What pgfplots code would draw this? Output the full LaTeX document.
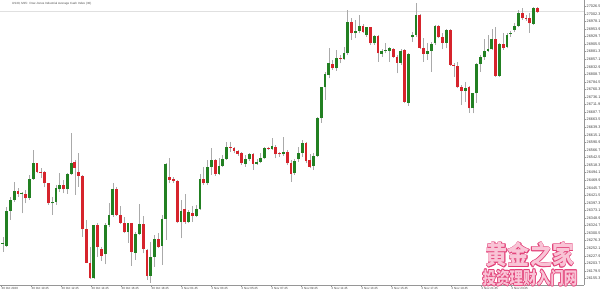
\documentclass[border=0pt]{standalone}
\usepackage{pgfplots}
\usepackage{pgfplotstable}
\pgfplotsset{compat=1.18}
\usepackage{fontspec}
\setmainfont{Liberation Sans}
\newfontfamily\cjk{Noto Sans CJK SC}
\definecolor{cgreen}{RGB}{34,128,34}
\definecolor{cred}{RGB}{214,36,44}
\definecolor{wick}{RGB}{170,170,170}
\definecolor{axgray}{RGB}{150,150,150}
\definecolor{wmout}{RGB}{226,64,120}
\definecolor{wmfill}{RGB}{249,196,214}

\pgfplotstableread{
k o h l c
1 26265.7 26289.2 26241.2 26270.0
2 26259.3 26385.2 26257.2 26371.3
3 26371.3 26417.2 26342.5 26406.5
4 26406.5 26465.2 26401.2 26435.3
6 26425.7 26433.2 26363.8 26427.8
8 26414.0 26486.5 26406.5 26473.7
9 26473.7 26566.5 26470.5 26526.0
14 26395.8 26417.2 26358.5 26401.2
15 26401.2 26454.5 26390.5 26443.8
16 26440.6 26491.8 26433.2 26454.5
18 26440.6 26491.8 26425.7 26489.7
19 26489.7 26619.8 26486.5 26523.8
25 26155.8 26328.0 26153.7 26326.5
28 26232.6 26331.8 26200.6 26326.5
29 26326.5 26398.0 26321.2 26358.5
30 26358.5 26459.8 26353.2 26441.7
34 26303.0 26334.0 26270.0 26331.8
36 26238.0 26305.2 26214.5 26296.6
37 26296.6 26392.6 26294.5 26329.7
40 26163.3 26273.2 26142.0 26225.2
41 26225.2 26294.5 26193.2 26280.6
43 26259.3 26358.5 26198.5 26345.7
44 26345.7 26523.8 26278.5 26521.7
48 26335.0 26406.5 26283.8 26371.3
50 26335.0 26374.5 26331.8 26367.0
52 26355.3 26390.5 26351.0 26376.6
53 26376.6 26489.7 26374.5 26473.7
55 26459.8 26534.5 26454.5 26513.2
56 26513.2 26571.8 26486.5 26534.5
58 26489.7 26539.8 26486.5 26515.3
59 26515.3 26550.5 26513.2 26536.6
60 26536.6 26593.2 26534.5 26577.2
65 26521.7 26550.5 26513.2 26536.6
66 26536.6 26558.0 26532.4 26553.7
68 26521.7 26536.6 26518.5 26529.2
69 26529.2 26555.8 26523.8 26539.8
70 26539.8 26577.2 26536.6 26571.8
72 26569.7 26603.8 26566.5 26579.3
75 26552.6 26609.2 26547.3 26561.2
78 26491.8 26536.6 26486.5 26532.4
79 26536.6 26577.2 26529.2 26555.8
80 26558.0 26598.5 26545.2 26590.0
83 26515.3 26555.8 26502.5 26548.4
84 26548.4 26673.2 26545.2 26667.8
85 26667.8 26769.2 26654.0 26767.0
86 26767.0 26817.2 26726.5 26809.7
87 26806.5 26891.8 26795.8 26843.8
89 26827.8 26886.5 26820.4 26859.8
91 26856.6 26897.2 26854.5 26875.8
92 26875.8 27014.5 26870.5 26975.0
94 26939.8 26982.5 26923.8 26948.4
95 26948.4 26998.5 26939.8 26963.3
97 26934.5 26961.2 26929.2 26959.0
99 26907.8 26934.5 26902.5 26931.3
101 26873.7 26888.6 26865.2 26884.4
102 26884.4 26907.8 26875.8 26886.5
103 26884.4 26897.2 26849.2 26891.8
106 26846.0 26888.6 26838.5 26884.4
108 26718.0 26878.0 26707.3 26873.7
109 26927.0 26945.2 26913.2 26934.5
110 26934.5 27038.0 26929.2 26998.5
113 26873.7 26910.0 26854.5 26884.4
114 26884.4 26913.2 26817.2 26905.7
115 26910.0 26966.5 26902.5 26963.3
118 26910.0 26952.6 26891.8 26950.5
123 26756.4 26785.2 26721.2 26763.8
125 26699.8 26750.0 26683.8 26747.8
126 26747.8 26843.8 26718.0 26840.6
127 26840.6 26870.5 26817.2 26863.0
128 26863.0 26920.6 26854.5 26884.4
129 26884.4 26934.5 26881.2 26888.6
130 26888.6 26952.6 26886.5 26920.6
132 26804.4 26910.0 26801.2 26904.6
134 26897.2 26939.8 26891.8 26934.5
135 26939.8 26948.4 26929.2 26942.0
136 26950.5 26971.8 26945.2 26963.3
137 26963.3 27014.5 26959.0 27003.8
141 26969.7 27023.0 26966.5 27022.0
}\greentab

\pgfplotstableread{
k o h l c
0 26278.5 26289.2 26246.5 26260.4
5 26435.3 26443.8 26417.2 26425.7
7 26424.6 26438.5 26395.8 26411.8
10 26523.8 26526.0 26491.8 26497.2
11 26497.2 26507.8 26475.8 26495.0
12 26497.2 26499.3 26447.0 26459.8
13 26459.8 26462.0 26390.5 26395.8
17 26454.5 26470.5 26427.8 26440.6
20 26527.0 26534.5 26422.5 26510.0
21 26497.2 26558.0 26449.2 26484.4
22 26484.4 26486.5 26289.2 26312.6
23 26312.6 26342.5 26203.8 26206.0
24 26206.0 26257.2 26153.7 26155.8
26 26326.5 26331.8 26225.2 26257.2
27 26248.6 26257.2 26212.4 26227.3
31 26441.7 26447.0 26355.3 26358.5
32 26358.5 26387.3 26329.7 26334.0
33 26334.0 26353.2 26299.8 26303.0
35 26331.8 26334.0 26196.4 26240.1
38 26329.7 26355.3 26235.8 26249.7
39 26246.5 26248.6 26150.5 26163.3
42 26280.6 26299.8 26251.8 26257.2
45 26479.0 26539.8 26459.8 26470.5
46 26473.7 26479.0 26462.0 26468.4
47 26467.3 26470.5 26331.8 26335.0
49 26376.6 26425.7 26329.7 26335.0
51 26366.0 26387.3 26337.2 26355.3
54 26473.7 26513.2 26454.5 26459.8
57 26534.5 26536.6 26483.3 26489.7
61 26577.2 26593.2 26561.2 26575.0
62 26574.0 26577.2 26555.8 26564.4
63 26564.4 26566.5 26547.3 26553.7
64 26555.8 26561.2 26518.5 26523.8
67 26553.7 26558.0 26502.5 26521.7
71 26571.8 26577.2 26566.5 26569.7
73 26577.2 26582.5 26539.8 26552.6
74 26555.8 26561.2 26545.2 26552.6
76 26561.2 26566.5 26518.5 26523.8
77 26523.8 26534.5 26465.2 26489.7
81 26590.0 26593.2 26523.8 26532.4
82 26534.5 26553.7 26507.8 26513.2
88 26841.7 26854.5 26822.5 26827.8
90 26859.8 26870.5 26843.8 26857.7
93 26975.0 26987.8 26918.5 26939.8
96 26963.3 26969.7 26939.8 26943.0
98 26959.0 26961.2 26902.5 26907.8
100 26931.3 26934.5 26849.2 26875.8
104 26888.6 26891.8 26859.8 26865.2
105 26863.0 26870.5 26811.8 26846.0
107 26886.5 26888.6 26715.8 26721.2
111 26998.5 27001.7 26888.6 26894.0
112 26894.0 26923.8 26849.2 26873.7
116 26963.3 26966.5 26923.8 26927.0
117 26929.2 26939.8 26888.6 26910.0
119 26950.5 26952.6 26835.3 26838.5
120 26838.5 26843.8 26801.2 26836.4
121 26835.3 26849.2 26763.8 26767.0
122 26767.0 26774.5 26710.5 26756.4
124 26767.0 26771.3 26686.0 26699.8
131 26920.6 26961.2 26801.2 26804.4
133 26905.7 26939.8 26886.5 26894.0
138 27003.8 27019.8 26982.5 26987.8
139 26987.8 26998.5 26980.4 26984.6
140 26987.8 27003.8 26942.0 26971.8
142 27022.0 27025.2 27006.0 27009.2
}\redtab

\begin{document}
\begin{tikzpicture}
\begin{axis}[
  at={(0bp,5bp)}, anchor=south west,
  scale only axis, width=584bp, height=285bp,
  xmin=0.24, xmax=154.33, ymin=26134.5, ymax=27046.5,
  scaled y ticks=false, scaled x ticks=false,
  axis x line*=bottom, axis y line*=right,
  axis line style={draw=axgray, line width=0.5bp},
  tick align=outside, major tick length=2bp,
  tick style={draw=axgray, line width=0.4bp},
  xtick={0.50,8.42,16.33,24.25,32.16,40.08,48.00,55.91,63.83,71.74,79.66,87.58,95.49,103.41,111.32,119.24,127.16,135.07},
  xticklabels={30 Oct 2020,30 Oct 10:45,30 Oct 12:45,30 Oct 14:45,30 Oct 16:45,30 Oct 18:45,2 Nov 01:45,2 Nov 03:45,2 Nov 05:45,2 Nov 07:45,2 Nov 09:45,2 Nov 11:45,2 Nov 13:45,2 Nov 15:45,2 Nov 17:45,2 Nov 19:45,2 Nov 21:45,2 Nov 23:45},
  xticklabel style={anchor=north west, inner sep=0.5bp, font=\fontsize{3}{3.5}\selectfont, text=black!75},
  ytick={26155.3,26179.5,26203.7,26227.9,26252.1,26276.3,26300.5,26324.7,26348.9,26373.1,26397.3,26421.5,26445.7,26469.9,26494.1,26518.3,26542.5,26566.7,26590.9,26615.1,26639.3,26663.5,26687.7,26711.9,26736.1,26760.3,26784.5,26808.7,26832.9,26857.1,26881.3,26905.5,26929.7,26953.9,26978.1,27002.3,27026.5},
  yticklabel style={anchor=west, inner sep=0.5bp, font=\fontsize{3.8}{4.5}\selectfont, text=black!75,
    /pgf/number format/.cd, fixed, fixed zerofill, precision=1, set thousands separator={}, assume math mode=true},
  clip=true,
]
% current price line
\addplot[draw=black!12, line width=0.6bp, mark=none] coordinates {(0.24,27009.2) (154.33,27009.2)};
% wicks
\addplot[draw=none, mark=none, error bars/.cd, y dir=plus, y explicit, error mark=none,
  error bar style={draw=wick, line width=0.55bp}]
  table[x=k, y=l, y error plus expr=\thisrow{h}-\thisrow{l}] {\greentab};
\addplot[draw=none, mark=none, error bars/.cd, y dir=plus, y explicit, error mark=none,
  error bar style={draw=wick, line width=0.55bp}]
  table[x=k, y=l, y error plus expr=\thisrow{h}-\thisrow{l}] {\redtab};
% bodies
\addplot[draw=none, mark=none, error bars/.cd, y dir=plus, y explicit, error mark=none,
  error bar style={draw=cgreen, line width=2.8bp}]
  table[x=k, y=o, y error plus expr=\thisrow{c}-\thisrow{o}] {\greentab};
\addplot[draw=none, mark=none, error bars/.cd, y dir=plus, y explicit, error mark=none,
  error bar style={draw=cred, line width=2.8bp}]
  table[x=k, y=c, y error plus expr=\thisrow{o}-\thisrow{c}] {\redtab};
\end{axis}
% title
\node[anchor=west, inner sep=0pt, font=\fontsize{3}{3.5}\selectfont, text=black!70] at (12bp,286.5bp)
  {US30, M15:\ \ Dow Jones Industrial Average Cash Index (30)};
% watermark
\foreach \dx/\dy in {-0.7/0,0.7/0,0/-0.7,0/0.7,-0.5/-0.5,0.5/0.5,-0.5/0.5,0.5/-0.5}{
  \node[inner sep=0pt, text=wmout, font=\cjk\bfseries\fontsize{26}{28}\selectfont, xscale=0.85] at ([xshift=\dx bp, yshift=\dy bp]530bp,35bp) {黄金之家};
  \node[inner sep=0pt, text=wmout, font=\cjk\bfseries\fontsize{17}{19}\selectfont, xscale=0.8] at ([xshift=\dx bp, yshift=\dy bp]530bp,12bp) {投资理财入门网};
}
\node[inner sep=0pt, text=wmfill, font=\cjk\bfseries\fontsize{26}{28}\selectfont, xscale=0.85] at (530bp,35bp) {黄金之家};
\node[inner sep=0pt, text=wmfill, font=\cjk\bfseries\fontsize{17}{19}\selectfont, xscale=0.8] at (530bp,12bp) {投资理财入门网};
\pgfresetboundingbox
\useasboundingbox (0,0) rectangle (600bp,290bp);
\end{tikzpicture}
\end{document}
